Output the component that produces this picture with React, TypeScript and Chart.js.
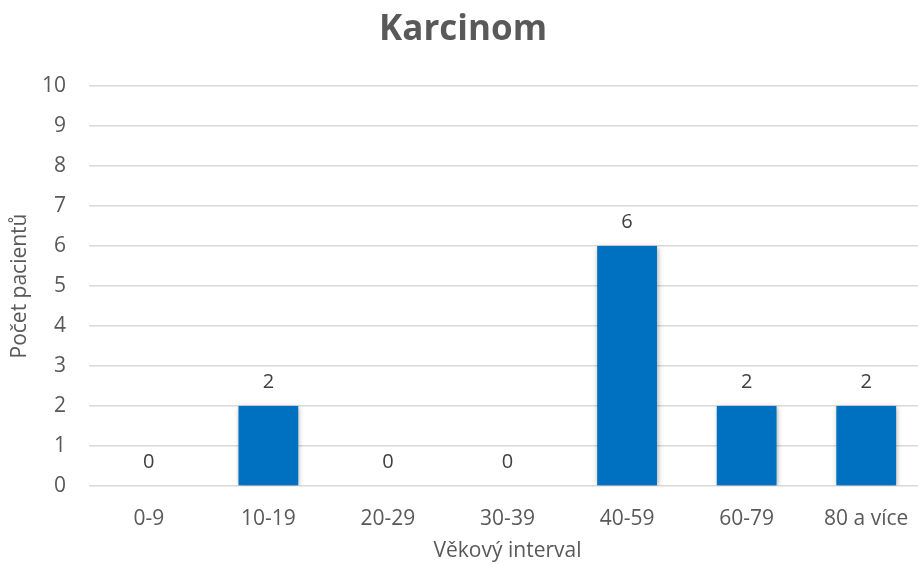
import React, { useEffect, useRef } from "react";
import { Chart, registerables } from "chart.js";

Chart.register(...registerables);

const categories = ["0-9", "10-19", "20-29", "30-39", "40-59", "60-79", "80 a více"];
const patients = [0, 2, 0, 0, 6, 2, 2];
const yTicks = [0, 1, 2, 3, 4, 5, 6, 7, 8, 9, 10];

const FONT = "'Open Sans', sans-serif";

const labelPlugin = {
  id: "valueLabels",
  afterDatasetsDraw(chart: any) {
    const ctx = chart.ctx;
    const meta = chart.getDatasetMeta(0);
    ctx.save();
    ctx.fillStyle = "#404040";
    ctx.font = `20px ${FONT}`;
    ctx.textAlign = "center";
    ctx.textBaseline = "middle";
    meta.data.forEach((bar: any, i: number) => {
      ctx.fillText(String(patients[i]), bar.x, bar.y - 24);
    });
    ctx.restore();
  },
};

const shadowPlugin = {
  id: "barShadow",
  beforeDatasetsDraw(chart: any) {
    const ctx = chart.ctx;
    ctx.save();
    ctx.shadowColor = "rgba(0,0,0,0.35)";
    ctx.shadowBlur = 5;
    ctx.shadowOffsetX = 1;
    ctx.shadowOffsetY = 1;
  },
  afterDatasetsDraw(chart: any) {
    chart.ctx.restore();
  },
};

export default function App() {
  const ref = useRef<HTMLCanvasElement>(null);
  useEffect(() => {
    document.body.style.margin = "0";
    document.body.style.overflow = "hidden";
    const chart = new Chart(ref.current!, {
      type: "bar",
      data: {
        labels: categories,
        datasets: [
          {
            data: patients,
            backgroundColor: "#0070C0",
            barPercentage: 0.5,
            categoryPercentage: 1,
          },
        ],
      },
      options: {
        animation: false,
        responsive: false,
        maintainAspectRatio: false,
        layout: { padding: { left: 0, right: 0, top: 0, bottom: 0 } },
        plugins: {
          legend: { display: false },
          tooltip: { enabled: false },
          title: {
            display: true,
            text: "Karcinom",
            color: "#595959",
            font: { family: FONT, size: 35, weight: "bold", lineHeight: 1.2 },
            padding: { top: 9, bottom: 35 },
          },
        },
        scales: {
          x: {
            grid: { display: false },
            border: { display: false },
            ticks: {
              color: "#595959",
              font: { family: FONT, size: 21 },
              padding: 12,
              maxRotation: 0,
              autoSkip: false,
            },
            title: {
              display: true,
              text: "Věkový interval",
              color: "#595959",
              font: { family: FONT, size: 21 },
              padding: { top: 4, bottom: 0 },
            },
            afterFit(scale: any) {
              scale.height = 78;
            },
          },
          y: {
            min: 0,
            max: 10,
            afterBuildTicks(scale: any) {
              scale.ticks = yTicks.map((v) => ({ value: v }));
            },
            grid: { color: "#d9d9d9", lineWidth: 1.5, drawTicks: false },
            border: { display: false },
            ticks: {
              color: "#595959",
              font: { family: FONT, size: 21 },
              padding: 23,
            },
            title: {
              display: true,
              text: "Počet pacientů",
              color: "#595959",
              font: { family: FONT, size: 21 },
              padding: { top: 7, bottom: 0 },
            },
            afterFit(scale: any) {
              scale.width = 89;
            },
          },
        },
      },
      plugins: [shadowPlugin, labelPlugin],
    });
    return () => chart.destroy();
  }, []);
  return (
    <div style={{ position: "fixed", left: 0, top: 0, width: 918, height: 564, overflow: "hidden", background: "#fff" }}>
      <canvas ref={ref} width={926} height={564} style={{ display: "block" }} />
    </div>
  );
}
